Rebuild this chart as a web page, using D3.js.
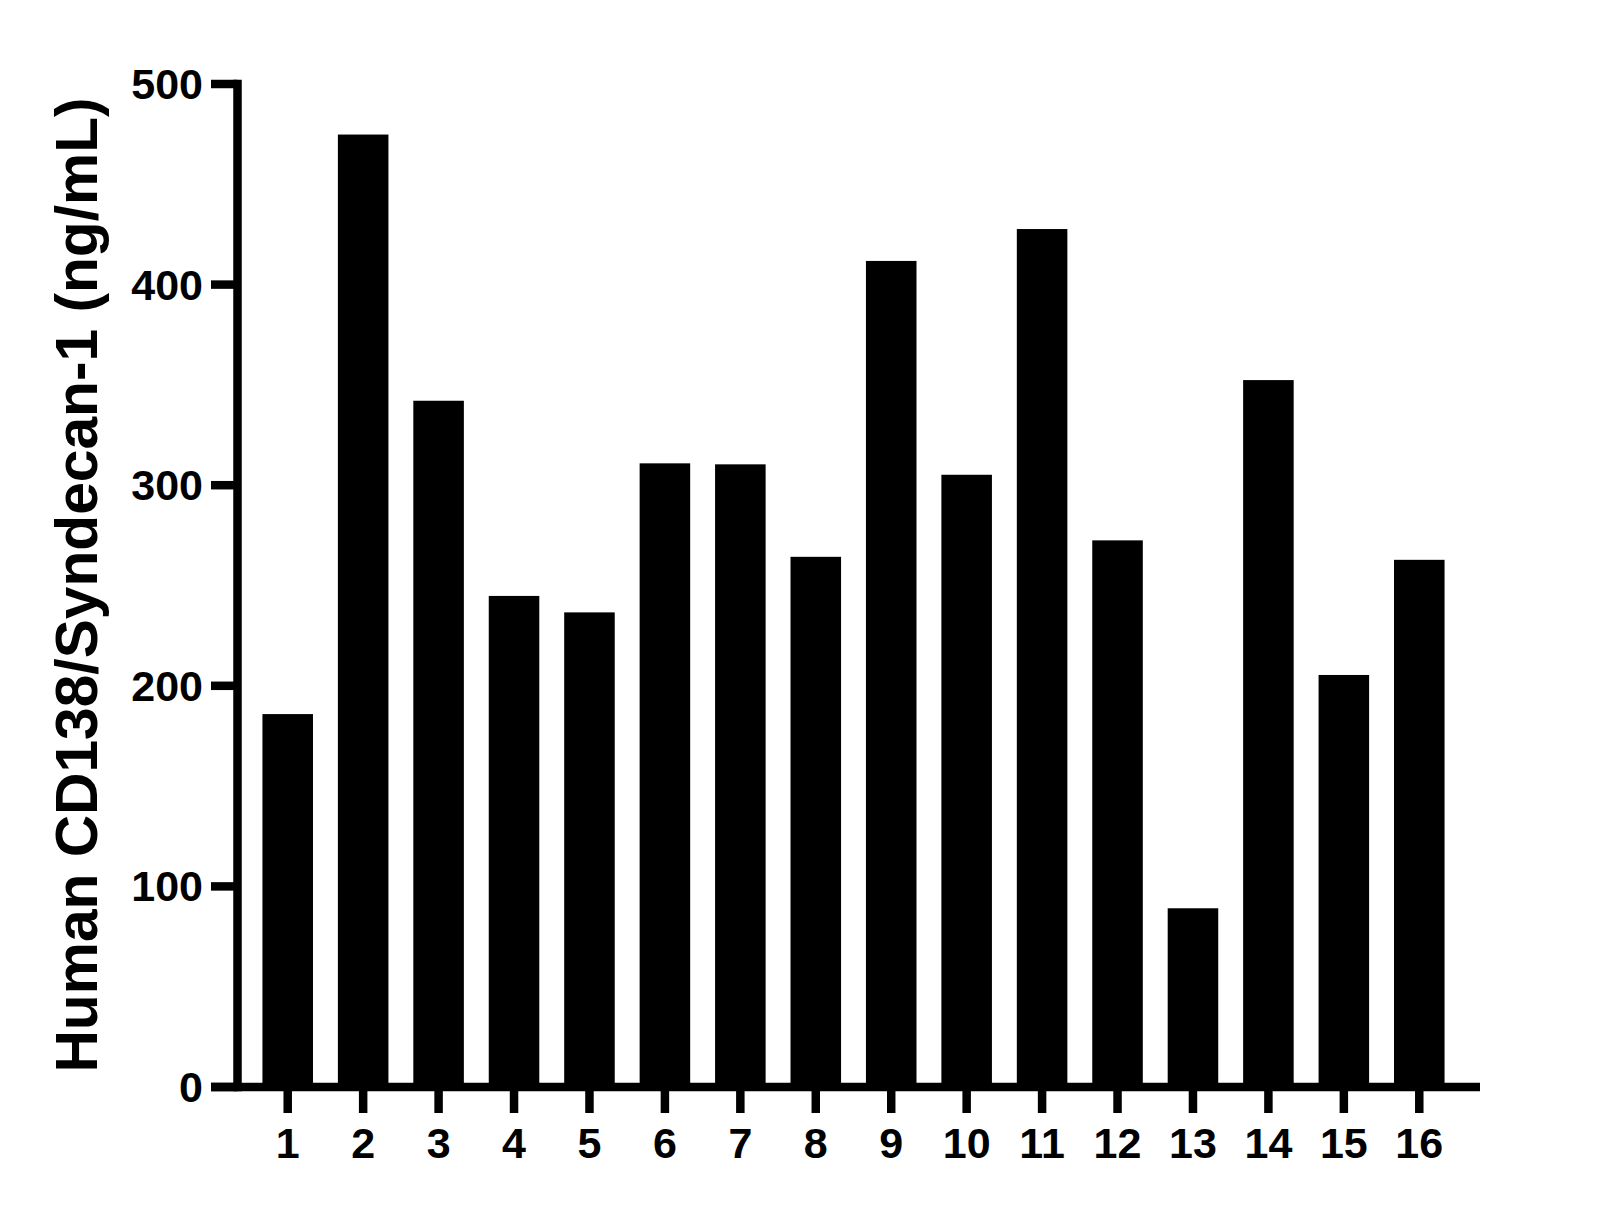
<!DOCTYPE html>
<html lang="en">
<head>
    <meta charset="utf-8">
    <title>Human CD138/Syndecan-1</title>
    <script src="https://cdnjs.cloudflare.com/ajax/libs/d3/7.8.5/d3.min.js"></script>
    <style>
        body { margin: 0; background: #fff; }
        svg text { font-family: "Liberation Sans", Arial, sans-serif; font-weight: bold; fill: #000; }
    </style>
</head>
<body>
    <svg id="chart"></svg>

    <script>
        // Data
        const samples = ['1', '2', '3', '4', '5', '6', '7', '8', '9', '10', '11', '12', '13', '14', '15', '16'];
        const values = [185.9, 474.8, 342.1, 244.8, 236.6, 310.9, 310.4, 264.3, 411.8, 305.2, 427.7, 272.5, 89.1, 352.4, 205.4, 262.8];
        const yTicks = [0, 100, 200, 300, 400, 500];
        const yTitle = 'Human CD138/Syndecan-1 (ng/mL)';

        const width = 1611;
        const height = 1209;

        const svg = d3.select('#chart')
            .attr('width', width)
            .attr('height', height);

        const x = d3.scaleBand()
            .domain(samples)
            .range([250, 1457])
            .paddingInner(0.33)
            .paddingOuter(0.165);

        const y = d3.scaleLinear()
            .domain([0, 500])
            .range([1087, 84]);

        const axisW = 8.5;
        const yAxisX = 237.5;

        // Bars
        svg.append('g')
            .selectAll('rect')
            .data(values)
            .enter().append('rect')
            .attr('x', (d, i) => x(samples[i]))
            .attr('width', x.bandwidth())
            .attr('y', d => y(d))
            .attr('height', d => y(0) - y(d))
            .attr('fill', '#000');

        // Y axis
        const yAxis = svg.append('g');
        yAxis.append('line')
            .attr('x1', yAxisX).attr('x2', yAxisX)
            .attr('y1', y(500) - axisW / 2).attr('y2', y(0) + axisW / 2)
            .attr('stroke', '#000').attr('stroke-width', axisW);

        yAxis.selectAll('.tick')
            .data(yTicks)
            .enter().append('line')
            .attr('x1', 211).attr('x2', yAxisX)
            .attr('y1', d => y(d)).attr('y2', d => y(d))
            .attr('stroke', '#000').attr('stroke-width', axisW);

        yAxis.selectAll('text')
            .data(yTicks)
            .enter().append('text')
            .attr('x', 203)
            .attr('y', d => y(d) + 15)
            .attr('text-anchor', 'end')
            .style('font-size', '43px')
            .text(d => d);

        // X axis
        const xAxis = svg.append('g');
        xAxis.append('line')
            .attr('x1', 211).attr('x2', 1480)
            .attr('y1', y(0)).attr('y2', y(0))
            .attr('stroke', '#000').attr('stroke-width', axisW);

        xAxis.selectAll('.tick')
            .data(samples)
            .enter().append('line')
            .attr('x1', d => x(d) + x.bandwidth() / 2)
            .attr('x2', d => x(d) + x.bandwidth() / 2)
            .attr('y1', y(0)).attr('y2', 1113)
            .attr('stroke', '#000').attr('stroke-width', axisW);

        xAxis.selectAll('text')
            .data(samples)
            .enter().append('text')
            .attr('x', d => x(d) + x.bandwidth() / 2)
            .attr('y', 1158)
            .attr('text-anchor', 'middle')
            .style('font-size', '43px')
            .text(d => d);

        // Y title
        svg.append('text')
            .attr('transform', 'translate(97,585) rotate(-90)')
            .attr('text-anchor', 'middle')
            .style('font-size', '58.7px')
            .text(yTitle);
    </script>
</body>
</html>
